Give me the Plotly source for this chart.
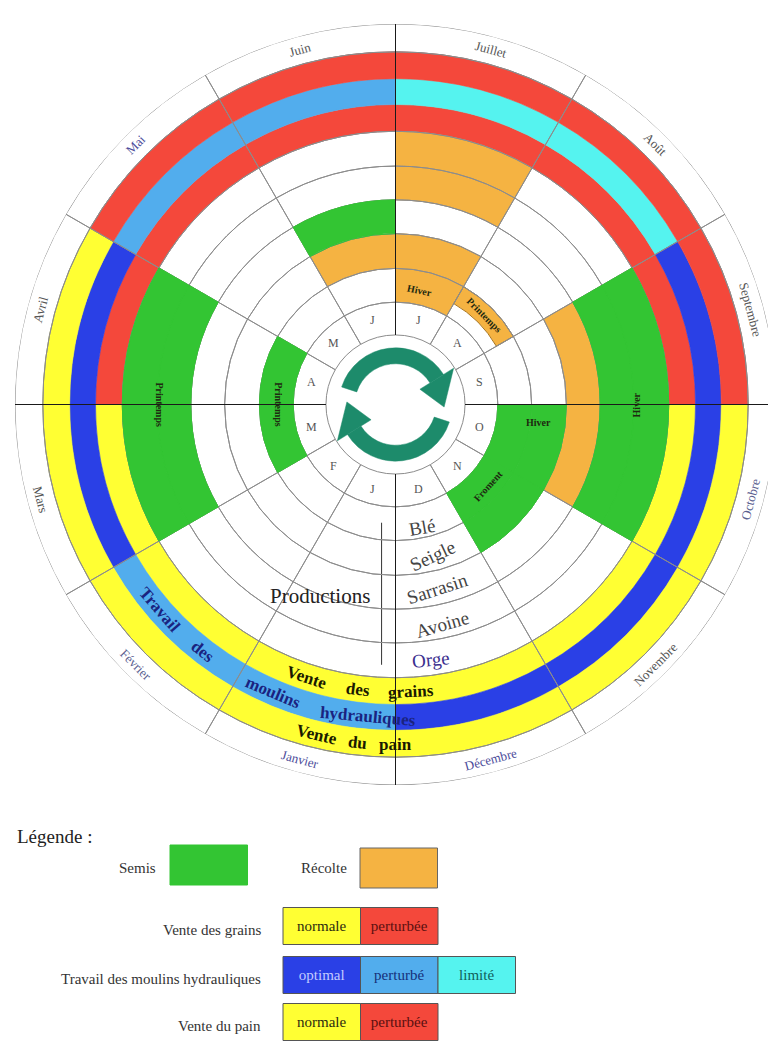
import math
import plotly.graph_objects as go

# ---------------- data ----------------
months = ["Juillet", "Août", "Septembre", "Octobre", "Novembre", "Décembre",
          "Janvier", "Février", "Mars", "Avril", "Mai", "Juin"]
month_letters = ["J", "A", "S", "O", "N", "D", "J", "F", "M", "A", "M", "J"]
crops = ["Blé", "Seigle", "Sarrasin", "Avoine", "Orge"]

semis_ble = ["Octobre", "Novembre", "Mars", "Avril"]
semis_seigle = ["Octobre", "Novembre"]
semis_sarrasin = ["Juin"]
semis_avoine = ["Septembre", "Octobre", "Mars", "Avril"]
semis_orge = ["Septembre", "Octobre", "Mars", "Avril"]

recolte_ble = ["Juillet"]
recolte_ble_printemps = ["Août"]
recolte_seigle = ["Juin", "Juillet"]
recolte_sarrasin = ["Septembre", "Octobre"]
recolte_avoine = ["Juillet"]
recolte_orge = ["Juillet"]

vente_grains = ["perturbée", "perturbée", "perturbée", "normale", "normale", "normale",
                "normale", "normale", "normale", "perturbée", "perturbée", "perturbée"]
travail_moulins = ["limité", "limité", "optimal", "optimal", "optimal", "optimal",
                   "perturbé", "perturbé", "optimal", "optimal", "perturbé", "perturbé"]
vente_pain = ["perturbée", "perturbée", "perturbée", "normale", "normale", "normale",
              "normale", "normale", "normale", "normale", "perturbée", "perturbée"]

legend_rows = ["Vente des grains", "Travail des moulins hydrauliques", "Vente du pain"]
legend_states = [["normale", "perturbée"], ["optimal", "perturbé", "limité"], ["normale", "perturbée"]]

# ---------------- styles ----------------
FONT = "Liberation Serif"
C_SEMIS = "#33c533"
C_RECOLTE = "#f5b342"
C_YELLOW = "#ffff33"
C_RED = "#f4483b"
C_BLUE = "#2a40e6"
C_LBLUE = "#52aded"
C_CYAN = "#55f3ef"
C_TEAL = "#1d8b6b"
GRID = "#8c8c8c"
state_colors = {"normale": C_YELLOW, "perturbée": C_RED, "optimal": C_BLUE,
                "perturbé": C_LBLUE, "limité": C_CYAN}
state_text_colors = {"normale": "#2b2b10", "perturbée": "#5a1010", "optimal": "#c3cbff",
                     "perturbé": "#16307a", "limité": "#11605a"}

R_MAX = 383
letter_ring = (70, 103)
crop_edges = [103, 137, 172, 206, 240, 275]
band_edges = [275, 302, 328, 355]
month_ring = (355, 383)
SECTOR = 30

W, H = 776, 1042
PAGE_OFF = 8  # the html body margin shifts the figure by this many pixels


def month_theta(m):
    return SECTOR / 2 + SECTOR * months.index(m)


thetas = [month_theta(m) for m in months]

fig = go.Figure()


def cells(th, base, thick, colors, line_colors=None, line_width=0.6):
    fig.add_trace(go.Barpolar(
        theta=th, base=base, r=thick, width=[SECTOR] * len(th),
        marker=dict(color=colors, line=dict(color=line_colors if line_colors else colors, width=line_width)),
        hoverinfo="skip", showlegend=False))


# bands (grains, moulins, pain)
for k, states in enumerate([vente_grains, travail_moulins, vente_pain]):
    cols = [state_colors[s] for s in states]
    cells(thetas, [band_edges[k]] * 12, [band_edges[k + 1] - band_edges[k]] * 12, cols)

# récoltes (orange)
recoltes = [recolte_ble, recolte_seigle, recolte_sarrasin, recolte_avoine, recolte_orge]
th, b, rr = [], [], []
for ci, lst in enumerate(recoltes):
    for m in lst:
        th.append(month_theta(m))
        b.append(crop_edges[ci])
        rr.append(crop_edges[ci + 1] - crop_edges[ci])
cells(th, b, rr, [C_RECOLTE] * len(th))
# spring wheat harvest: narrow strip in the outer part of the Blé ring
ble_w = crop_edges[1] - crop_edges[0]
cells([month_theta(m) for m in recolte_ble_printemps],
      [crop_edges[0] + 0.42 * ble_w] * len(recolte_ble_printemps),
      [0.58 * ble_w] * len(recolte_ble_printemps),
      [C_RECOLTE] * len(recolte_ble_printemps), ["#a8741c"] * len(recolte_ble_printemps), 1)

# grid of cells (outlines)
rings = [letter_ring] + [(crop_edges[i], crop_edges[i + 1]) for i in range(5)] + \
        [(band_edges[0], band_edges[-1]), month_ring]
gth, gb, gr = [], [], []
for (a, z) in rings:
    for t in thetas:
        gth.append(t); gb.append(a); gr.append(z - a)
fig.add_trace(go.Barpolar(theta=gth, base=gb, r=gr, width=[SECTOR] * len(gth),
                          marker=dict(color="rgba(0,0,0,0)", line=dict(color=GRID, width=1)),
                          hoverinfo="skip", showlegend=False))

# semis (green)
semis = [semis_ble, semis_seigle, semis_sarrasin, semis_avoine, semis_orge]
th, b, rr = [], [], []
for ci, lst in enumerate(semis):
    for m in lst:
        th.append(month_theta(m))
        b.append(crop_edges[ci])
        rr.append(crop_edges[ci + 1] - crop_edges[ci])
cells(th, b, rr, [C_SEMIS] * len(th), line_width=1)

# central cycle arrows
ARC_IN, ARC_W = 41, 16
arc_start = [288, 108]
arc_span = 130
fig.add_trace(go.Barpolar(theta=[(s + arc_span / 2) % 360 for s in arc_start],
                          base=[ARC_IN, ARC_IN], r=[ARC_W, ARC_W], width=[arc_span, arc_span],
                          marker=dict(color=C_TEAL, line=dict(color=C_TEAL, width=0.5)),
                          hoverinfo="skip", showlegend=False))
hr, ht = [], []
for s in arc_start:
    e = (s + arc_span) % 360
    hr += [ARC_IN - 12, ARC_IN + ARC_W + 12, ARC_IN + ARC_W / 2, ARC_IN - 12, None]
    ht += [e, e, e + 35, e, None]
fig.add_trace(go.Scatterpolar(r=hr, theta=ht, mode="lines", fill="toself", fillcolor=C_TEAL,
                              line=dict(color=C_TEAL, width=0.5), hoverinfo="skip", showlegend=False))

# black quadrant lines
lr, lt = [], []
for q in [0, 90, 180, 270]:
    lr += [letter_ring[0], R_MAX, None]
    lt += [q, q, None]
fig.add_trace(go.Scatterpolar(r=lr, theta=lt, mode="lines", line=dict(color="#1a1a1a", width=1),
                              hoverinfo="skip", showlegend=False))

# "Productions" bracket (cartesian overlay)
fig.add_trace(go.Scatter(x=[-14, -14], y=[-(crop_edges[0] + 16), -(crop_edges[-1] - 13)], mode="lines",
                         line=dict(color="#333", width=1), hoverinfo="skip", showlegend=False,
                         xaxis="x", yaxis="y"))

# ---------------- annotations ----------------
ann = []


def xy(r, t):
    a = math.radians(t)
    return r * math.sin(a), r * math.cos(a)


def tang(t):
    t = t % 360
    if 90 < t < 270:
        return t - 180
    return t if t <= 90 else t - 360


def add_polar_text(text, r, t, angle, size, color, bold=False):
    x, y = xy(r, t)
    ann.append(dict(x=x, y=y, xref="x", yref="y", text=f"<b>{text}</b>" if bold else text,
                    textangle=angle, showarrow=False,
                    font=dict(family=FONT, size=size, color=color), xanchor="center", yanchor="middle"))


month_colors = ["#555", "#555", "#555", "#5a6090", "#555", "#4b4b9a",
                "#4b4b9a", "#5a6090", "#555", "#555", "#4b4b9a", "#555"]
for i, m in enumerate(months):
    add_polar_text(m, 370, thetas[i], tang(thetas[i]), 13, month_colors[i])
for i, l in enumerate(month_letters):
    add_polar_text(l, 88, thetas[i], 0, 12, "#555")

crop_label_pos = [(127, 168, -10), (157, 166, -25), (190, 167, -18), (226, 168, -16), (259, 172, -6)]
crop_label_col = ["#444", "#444", "#444", "#444", "#3b2f8f"]
for c, (r, t, a), col in zip(crops, crop_label_pos, crop_label_col):
    add_polar_text(c, r, t, a, 19, col)

sector_texts = [("Hiver", 117, 12, 12), ("Printemps", 127, 45, 45), ("Hiver", 145, 97, 0),
                ("Froment", 124, 131, -48), ("Printemps", 118, 270, 90), ("Printemps", 238, 270, 90),
                ("Hiver", 243, 90, -90)]
for txt, r, t, a in sector_texts:
    add_polar_text(txt, r, t, a, 10, "#1e2a10", bold=True)

for w, t in [("Vente", 198), ("des", 187.5), ("grains", 177)]:
    add_polar_text(w, 289, t, tang(t), 17, "#1a1a00", bold=True)
for w, t in [("Travail", 229), ("des", 218), ("moulins", 203), ("hydrauliques", 185)]:
    add_polar_text(w, 315, t, tang(t), 17, "#1a2380", bold=True)
for w, t in [("Vente", 193.5), ("du", 186.5), ("pain", 180)]:
    add_polar_text(w, 342, t, tang(t), 17, "#1a1a00", bold=True)

ann.append(dict(x=-24, y=-193, xref="x", yref="y", text="Productions", showarrow=False,
                font=dict(family=FONT, size=21, color="#222"), xanchor="right", yanchor="middle"))

# ---------------- legend (second cartesian area, page-pixel units) ----------------
BOX_W, BOX_H = 77.5, 37
row_y = [926, 975, 1022]
for label, states, y in zip(legend_rows, legend_states, row_y):
    for j, s in enumerate(states):
        fig.add_trace(go.Bar(orientation="h", y=[y], x=[BOX_W], base=[283 + j * BOX_W], width=[BOX_H],
                             marker=dict(color=state_colors[s], line=dict(color="#555", width=1)),
                             text=[s], textposition="inside", insidetextanchor="middle",
                             textfont=dict(family=FONT, size=15, color=state_text_colors[s]),
                             constraintext="none", hoverinfo="skip", showlegend=False,
                             xaxis="x2", yaxis="y2"))
    ann.append(dict(x=263, y=y + 4, xref="x2", yref="y2", text=label, showarrow=False,
                    font=dict(family=FONT, size=15, color="#333"), xanchor="right", yanchor="middle"))

for lab, col, x0, y, lx in [("Semis", C_SEMIS, 170, 865, 158), ("Récolte", C_RECOLTE, 360, 868, 349)]:
    fig.add_trace(go.Bar(orientation="h", y=[y], x=[BOX_W], base=[x0], width=[40],
                         marker=dict(color=col, line=dict(color="#666" if lab == "Récolte" else col, width=1)),
                         hoverinfo="skip", showlegend=False, xaxis="x2", yaxis="y2"))
    ann.append(dict(x=lx, y=868, xref="x2", yref="y2", text=lab, showarrow=False,
                    font=dict(family=FONT, size=15, color="#333"), xanchor="right", yanchor="middle"))

ann.append(dict(x=15, y=836, xref="x2", yref="y2", text="Légende :", showarrow=False,
                font=dict(family=FONT, size=19, color="#222"), xanchor="left", yanchor="middle"))

# polar area placed in page pixels, converted to figure fractions
px0, pyt, side = 15, 24, 761
dom_x = [(px0 - PAGE_OFF) / W, (px0 - PAGE_OFF + side) / W]
dom_y = [(H - (pyt - PAGE_OFF + side)) / H, (H - (pyt - PAGE_OFF)) / H]
leg_top = 790

fig.update_layout(
    width=W, height=H, margin=dict(l=0, r=0, t=0, b=0),
    paper_bgcolor="white", plot_bgcolor="rgba(0,0,0,0)", showlegend=False, barmode="overlay",
    polar=dict(domain=dict(x=dom_x, y=dom_y), bgcolor="rgba(0,0,0,0)", barmode="overlay", bargap=0, hole=0,
               radialaxis=dict(range=[0, R_MAX], visible=False, showgrid=False),
               angularaxis=dict(rotation=90, direction="clockwise", visible=False, showgrid=False)),
    xaxis=dict(domain=dom_x, range=[-R_MAX, R_MAX], visible=False, anchor="y", fixedrange=True),
    yaxis=dict(domain=dom_y, range=[-R_MAX, R_MAX], visible=False, anchor="x", fixedrange=True),
    xaxis2=dict(domain=[0, 1], range=[PAGE_OFF, W + PAGE_OFF], visible=False, anchor="y2", fixedrange=True),
    yaxis2=dict(domain=[0, (H - (leg_top - PAGE_OFF)) / H], range=[H + PAGE_OFF, leg_top],
                visible=False, anchor="x2", fixedrange=True),
    annotations=ann,
)

fig.write_html("out.html")
